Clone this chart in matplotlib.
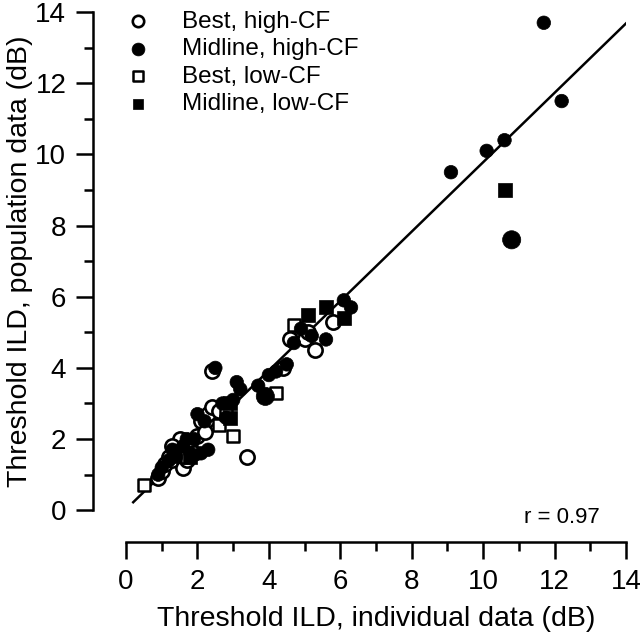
import numpy as np
import matplotlib
matplotlib.use("Agg")
import matplotlib.pyplot as plt

plt.rcParams["font.family"] = ["Liberation Sans", "DejaVu Sans"]

# Best, high-CF (open circles)
best_hi_x = [0.9, 1.0, 1.1, 1.2, 1.3, 1.4, 1.5, 1.6, 1.7, 1.8, 2.0, 2.1, 2.2, 2.3, 2.4,
             2.6, 2.4, 3.4, 4.4, 4.6, 5.0, 5.1, 5.3, 5.8, 1.3, 1.9]
best_hi_y = [0.9, 1.1, 1.3, 1.5, 1.4, 1.6, 2.0, 1.2, 1.4, 1.9, 2.1, 2.5, 2.2, 2.7, 2.9,
             2.8, 3.9, 1.5, 4.0, 4.8, 4.8, 5.0, 4.5, 5.3, 1.8, 1.6]

# Midline, high-CF (filled circles); n = relative weight of the point
mid_hi_x = [0.9, 1.0, 1.2, 1.3, 1.4, 1.6, 1.7, 1.8, 2.0, 2.1, 2.2, 2.5, 2.7, 2.8, 3.0,
            3.1, 3.2, 3.7, 3.9, 4.0, 4.2, 4.5, 4.7, 4.9, 5.2, 5.6, 6.1, 6.3, 9.1, 10.1,
            10.6, 11.7, 12.2, 10.8, 1.9, 2.3]
mid_hi_y = [1.0, 1.2, 1.4, 1.7, 1.5, 1.8, 2.0, 1.6, 2.7, 1.6, 2.5, 4.0, 3.0, 2.6, 3.1,
            3.6, 3.4, 3.5, 3.2, 3.8, 3.9, 4.1, 4.7, 5.1, 4.9, 4.8, 5.9, 5.7, 9.5, 10.1,
            10.4, 13.7, 11.5, 7.6, 2.0, 1.7]
mid_hi_n = [1, 1, 1, 1, 1, 1, 1, 1, 1, 1, 1, 1, 1, 1, 1,
            1, 1, 1, 2, 1, 1, 1, 1, 1, 1, 1, 1, 1, 1, 1,
            1, 1, 1, 2, 1, 1]

# Best, low-CF (open squares)
best_lo_x = [0.5, 1.7, 2.6, 3.0, 2.8, 4.2, 4.7]
best_lo_y = [0.7, 1.5, 2.4, 2.1, 2.7, 3.3, 5.2]

# Midline, low-CF (filled squares)
mid_lo_x = [1.8, 2.9, 2.9, 5.1, 5.6, 6.1, 10.6]
mid_lo_y = [1.5, 2.6, 3.0, 5.5, 5.7, 5.4, 9.0]

# regression line
fit_slope = 0.975
fit_intercept = 0.03
fit_x = [0.2, 14.0]
r_value = 0.97

fig = plt.figure(figsize=(6.4, 6.37), dpi=100)
ax = fig.add_axes([0.197, 0.199, 0.781, 0.782])

fx = np.array(fit_x)
ax.plot(fx, fit_slope * fx + fit_intercept, color="black", lw=1.8, zorder=1)

ax.scatter(best_hi_x, best_hi_y, s=105, marker="o", facecolor="white",
           edgecolor="black", linewidths=1.9, zorder=2, label="Best, high-CF")
ax.scatter(best_lo_x, best_lo_y, s=85, marker="s", facecolor="white",
           edgecolor="black", linewidths=1.8, zorder=2, label="Best, low-CF")
ax.scatter(mid_hi_x, mid_hi_y, s=95 * np.array(mid_hi_n) ** 0.85, marker="o",
           facecolor="black", edgecolor="black", linewidths=0.5, zorder=3,
           label="Midline, high-CF")
ax.scatter(mid_lo_x, mid_lo_y, s=95, marker="s", facecolor="black",
           edgecolor="black", linewidths=0.5, zorder=3, label="Midline, low-CF")

ax.set_xlim(0, 14)
ax.set_ylim(0, 14)
ax.set_xticks(np.arange(0, 15, 2))
ax.set_yticks(np.arange(0, 15, 2))
ax.set_xticks(np.arange(1, 14, 2), minor=True)
ax.set_yticks(np.arange(1, 14, 2), minor=True)

for side in ["top", "right"]:
    ax.spines[side].set_visible(False)
ax.spines["left"].set_position(("outward", 24))
ax.spines["bottom"].set_position(("outward", 23))
ax.spines["left"].set_linewidth(1.8)
ax.spines["bottom"].set_linewidth(1.8)
ax.tick_params(which="major", length=12, width=1.8, labelsize=20, pad=7)
ax.tick_params(which="minor", length=6.5, width=1.8)

ax.set_xlabel("Threshold ILD, individual data (dB)", fontsize=20.5, labelpad=8)
ax.set_ylabel("Threshold ILD, population data (dB)", fontsize=20.5, labelpad=2)

ax.text(0.948, -0.014, "r = %.2f" % r_value, transform=ax.transAxes,
        ha="right", va="center", fontsize=16)

handles, labels = ax.get_legend_handles_labels()
order = ["Best, high-CF", "Midline, high-CF", "Best, low-CF", "Midline, low-CF"]
hmap = dict(zip(labels, handles))
ax.legend([hmap[k] for k in order], order, loc="upper left", frameon=False,
          fontsize=17.5, markerscale=0.8, handlelength=1.2, handletextpad=1.2,
          labelspacing=0.22, borderaxespad=0.0, bbox_to_anchor=(-0.024, 1.022))

fig.savefig("out.png", dpi=100)
